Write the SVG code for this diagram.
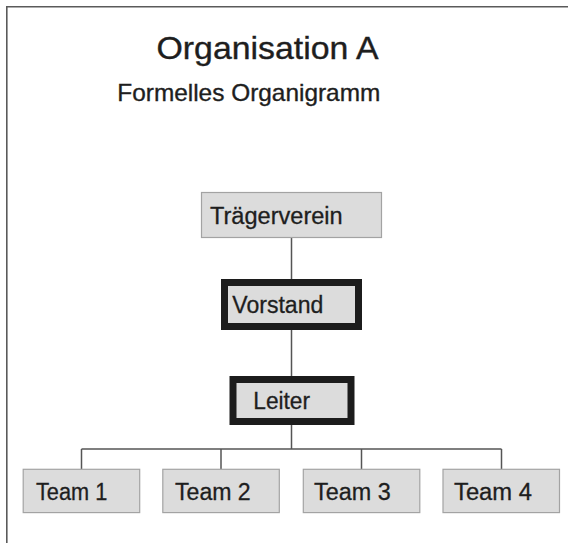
<svg xmlns="http://www.w3.org/2000/svg" width="568" height="543" viewBox="0 0 568 543">
<style>
.bg{fill:#ffffff}
.frame{fill:none;stroke:#5a5a5a;stroke-width:1.6}
.box{fill:#dcdcdc;stroke:#a3a3a3;stroke-width:1.2}
.bold{fill:#dcdcdc;stroke:#1c1c1c;stroke-width:7}
.lbl{font-family:"Liberation Sans",Arial,sans-serif;font-size:23px;fill:#1e1e1e;stroke:#1e1e1e;stroke-width:0.3}
.title{font-family:"Liberation Sans",Arial,sans-serif;fill:#1e1e1e;stroke:#1e1e1e;stroke-width:0.35}
.conn{fill:none;stroke:#555555;stroke-width:1.5}
</style>
<rect class="bg" x="0" y="0" width="568" height="543"/>
<path class="frame" d="M6.8,545 V6.8 H570"/>
<g id="title">
<text class="title" x="156.5" y="59.3" font-size="30.5" textLength="222" lengthAdjust="spacingAndGlyphs">Organisation A</text>
<text class="title" x="117.3" y="100.7" font-size="24" textLength="263" lengthAdjust="spacingAndGlyphs">Formelles Organigramm</text>
</g>
<g id="connectors">
<path class="conn" d="M291.5,238 V279 M291.5,330 V376 M291.5,425 V449 M81.5,449 H501.5 M81.5,449 V469 M221,449 V469 M361.5,449 V469 M501.5,449 V469"/>
</g>
<g id="traegerverein">
<rect class="box" x="201.5" y="192.5" width="180" height="45"/>
<text class="lbl" x="210" y="224.3" textLength="132.7" lengthAdjust="spacingAndGlyphs">Trägerverein</text>
</g>
<g id="vorstand">
<rect class="bold" x="224.5" y="282.5" width="134" height="44"/>
<text class="lbl" x="232.3" y="313.3" textLength="91" lengthAdjust="spacingAndGlyphs">Vorstand</text>
</g>
<g id="leiter">
<rect class="bold" x="233" y="379.5" width="118" height="42"/>
<text class="lbl" x="253.3" y="408.5" textLength="56.7" lengthAdjust="spacingAndGlyphs">Leiter</text>
</g>
<g id="team1">
<rect class="box" x="23.2" y="469.3" width="116.5" height="43.3"/>
<text class="lbl" x="36" y="500" textLength="71.3" lengthAdjust="spacingAndGlyphs">Team 1</text>
</g>
<g id="team2">
<rect class="box" x="162.8" y="469.3" width="116.5" height="43.3"/>
<text class="lbl" x="175" y="500" textLength="75.7" lengthAdjust="spacingAndGlyphs">Team 2</text>
</g>
<g id="team3">
<rect class="box" x="303.3" y="469.3" width="116.5" height="43.3"/>
<text class="lbl" x="314" y="500" textLength="76.7" lengthAdjust="spacingAndGlyphs">Team 3</text>
</g>
<g id="team4">
<rect class="box" x="443" y="469.3" width="116.5" height="43.3"/>
<text class="lbl" x="454" y="500" textLength="78" lengthAdjust="spacingAndGlyphs">Team 4</text>
</g>
</svg>
